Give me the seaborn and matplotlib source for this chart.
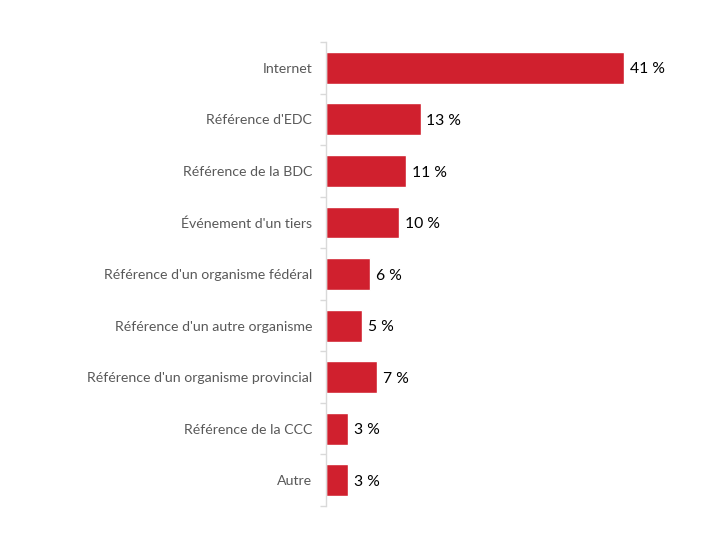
import matplotlib
matplotlib.use("Agg")
import matplotlib.pyplot as plt
import seaborn as sns
import pandas as pd
import numpy as np

categories = ["Internet", "Référence d'EDC", "Référence de la BDC", "Événement d'un tiers",
              "Référence d'un organisme fédéral", "Référence d'un autre organisme",
              "Référence d'un organisme provincial", "Référence de la CCC", "Autre"]
values = [41, 13, 11, 10, 6, 5, 7, 3, 3]

sns.set_theme(style="white")
plt.rcParams['font.family'] = ['Lato', 'DejaVu Sans']

df = pd.DataFrame({"cat": categories, "val": values})
fig = plt.figure(figsize=(7.2, 5.4), dpi=100)
ax = fig.add_axes([0.453, 0.063, 0.447, 0.859])
sns.barplot(data=df, x="val", y="cat", color="#D0202E", saturation=1, width=0.62, ax=ax, orient="h")
ax.set_xlim(0, 44.3)
ax.set_ylim(len(categories) - 0.5, -0.5)
ax.set_xlabel("")
ax.set_ylabel("")
ax.set_xticks([])
for s in ["top", "right", "bottom"]:
    ax.spines[s].set_visible(False)
ax.spines["left"].set_color("#D9D9D9")
ax.spines["left"].set_linewidth(1)
ax.tick_params(axis="y", which="major", length=0, pad=10, labelsize=10.2, labelcolor="#595959")
ax.set_yticks(np.arange(-0.5, len(categories), 1), minor=True)
ax.tick_params(axis="y", which="minor", left=True, length=4, color="#D9D9D9", width=1)
for i, v in enumerate(values):
    ax.text(v + 0.8, i + 0.03, f"{v} %", va="center", ha="left", fontsize=11.3, color="#000000")
fig.savefig("out.png", dpi=100)
